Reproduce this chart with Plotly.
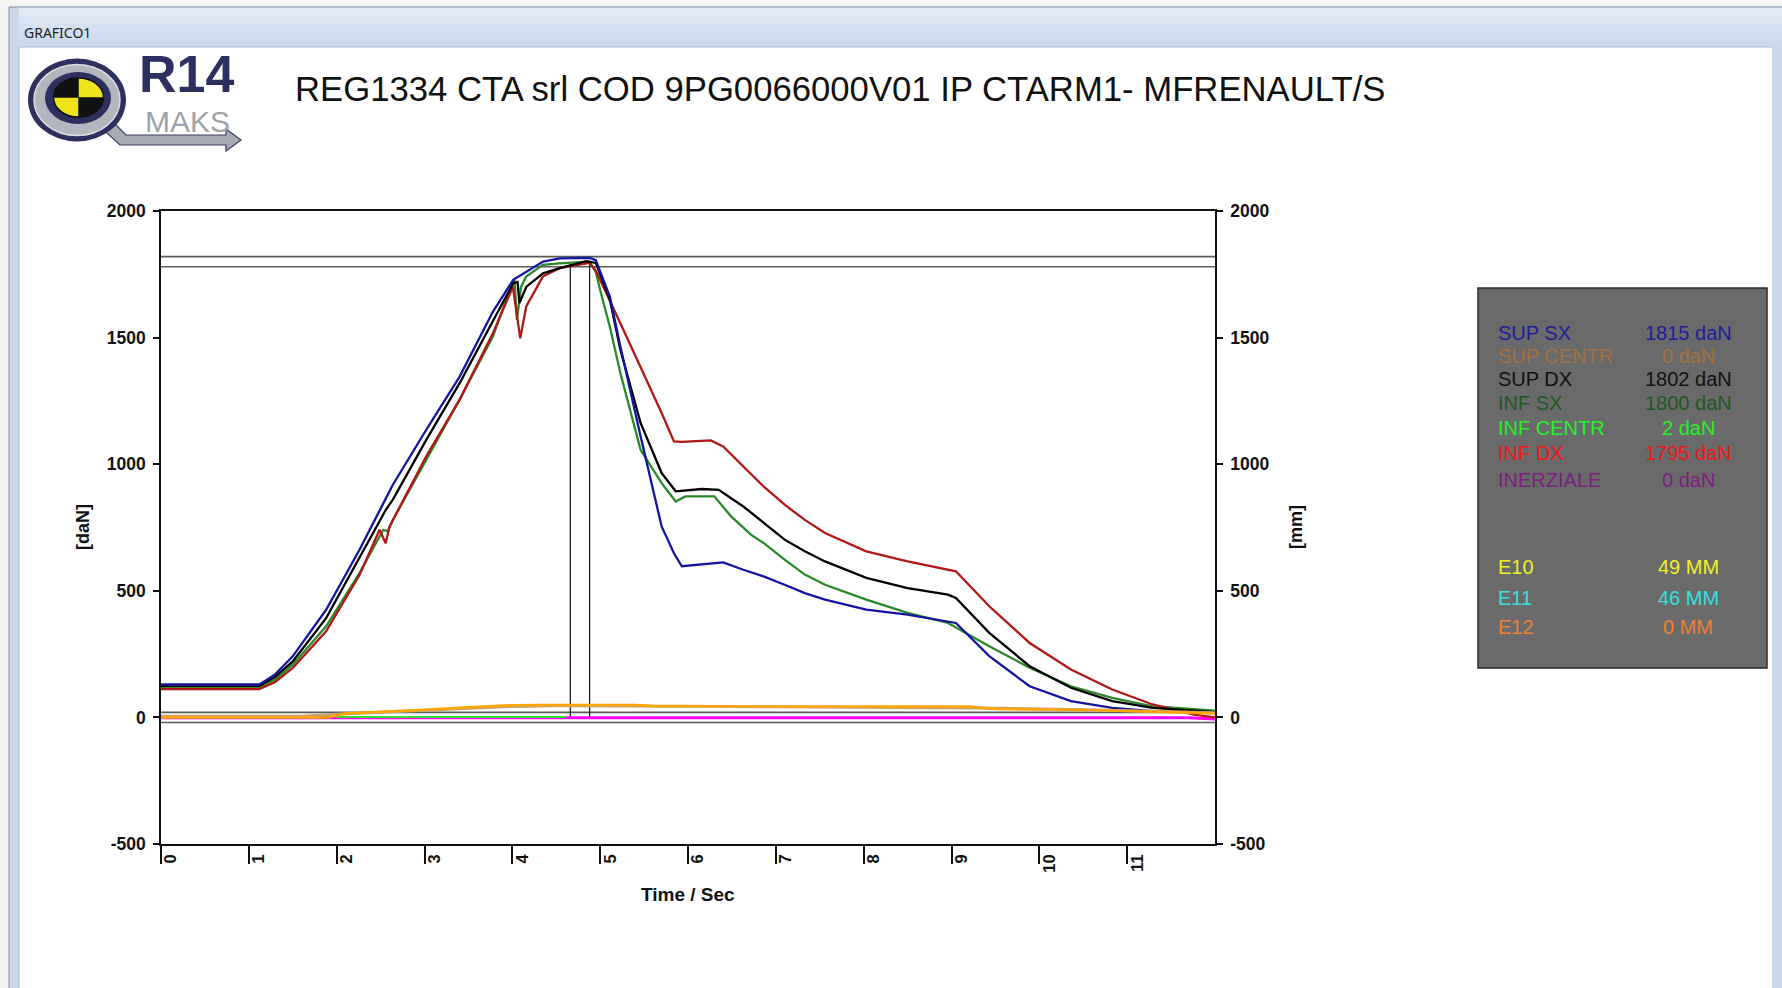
import plotly.graph_objects as go

# ---------------- DATA ----------------
x_ticks = [0, 1, 2, 3, 4, 5, 6, 7, 8, 9, 10, 11]
y_ticks = [-500, 0, 500, 1000, 1500, 2000]
y_tick_labels = ["-500", "0", "500", "1000", "1500", "2000"]

t_sup_sx = [0, 1.12, 1.30, 1.50, 1.88, 2.26, 2.64, 3.02, 3.40, 3.78, 4.01, 4.16, 4.35, 4.54, 4.70, 4.88, 4.95,
            5.11, 5.23, 5.46, 5.70, 5.84, 5.93, 6.16, 6.40, 6.63, 6.86, 7.10, 7.33, 7.56, 8.03, 8.50, 8.96, 9.05,
            9.43, 9.89, 10.36, 10.83, 11.29, 12.0]
v_sup_sx = [130, 130, 170, 241, 425, 662, 919, 1136, 1346, 1603, 1728, 1761, 1800, 1813, 1815, 1815, 1806,
            1662, 1465, 1110, 754, 648, 597, 603, 612, 583, 557, 524, 491, 465, 426, 406, 380, 373,
            242, 123, 64, 38, 25, 18]

t_sup_dx = [0, 1.12, 1.30, 1.50, 1.88, 2.26, 2.56, 2.64, 3.02, 3.40, 3.78, 4.01, 4.06, 4.08, 4.16, 4.35, 4.54,
            4.84, 4.95, 5.11, 5.23, 5.46, 5.70, 5.86, 6.16, 6.35, 6.63, 6.86, 7.10, 7.33, 7.56, 8.03, 8.50, 8.96,
            9.05, 9.43, 9.89, 10.36, 10.83, 11.29, 12.0]
v_sup_dx = [125, 125, 160, 221, 392, 629, 820, 860, 1096, 1320, 1570, 1715, 1720, 1636, 1701, 1754, 1774,
            1802, 1795, 1650, 1452, 1163, 965, 893, 902, 899, 833, 768, 702, 656, 616, 551, 511, 485,
            472, 334, 202, 117, 64, 38, 21]

t_inf_sx = [0, 1.12, 1.30, 1.50, 1.88, 2.26, 2.53, 2.58, 2.64, 3.02, 3.40, 3.78, 3.93, 4.025, 4.052, 4.10,
            4.158, 4.347, 4.537, 4.878, 4.95, 5.0, 5.11, 5.23, 5.46, 5.70, 5.86, 5.97, 6.30, 6.49, 6.72, 6.86,
            7.10, 7.33, 7.56, 8.03, 8.50, 8.96, 9.43, 9.89, 10.36, 10.83, 11.29, 12.0]
v_inf_sx = [120, 120, 150, 208, 360, 570, 741, 735, 780, 1017, 1255, 1505, 1650, 1728, 1570, 1701,
            1741, 1787, 1793, 1800, 1760, 1688, 1543, 1360, 1057, 925, 853, 873, 873, 794, 721, 689,
            623, 564, 524, 465, 413, 373, 281, 196, 123, 77, 44, 27]

t_inf_dx = [0, 1.12, 1.30, 1.50, 1.88, 2.26, 2.489, 2.557, 2.603, 2.641, 3.02, 3.40, 3.78, 4.006, 4.09,
            4.158, 4.347, 4.537, 4.878, 4.95, 5.23, 5.46, 5.70, 5.84, 5.93, 6.26, 6.40, 6.63, 6.86, 7.10,
            7.33, 7.56, 8.03, 8.50, 8.96, 9.05, 9.43, 9.89, 10.36, 10.83, 11.29, 11.76, 12.0]
v_inf_dx = [112, 112, 140, 195, 340, 563, 741, 688, 754, 780, 1031, 1255, 1518, 1701, 1497,
            1623, 1741, 1774, 1795, 1765, 1557, 1386, 1202, 1090, 1088, 1094, 1070, 991, 912, 840,
            780, 728, 656, 616, 583, 577, 439, 294, 189, 110, 51, 11, 0]

t_sup_centr = [0, 1.6]
v_sup_centr = [4, 4]

t_inf_centr = [2.0, 4.6]
v_inf_centr = [2, 2]

t_inerz = [0, 11.7, 12.0]
v_inerz = [-1, -1, -6]

t_e10 = [0, 1.9, 2.1, 2.5, 3.0, 3.5, 4.0, 4.3, 5.4, 5.6, 7.0, 9.2, 9.5, 10.2, 10.7, 11.5, 12.0]
v_e10 = [0, 0, 15, 21, 30, 40, 48, 49, 49, 45, 43, 43, 33, 30, 28, 20, 15]

t_e11 = [0, 1.6, 2.0, 2.5, 3.0, 3.5, 4.0, 4.5, 5.6, 6.0, 7.0, 8.0, 9.0, 9.6, 10.5, 11.2, 12.0]
v_e11 = [5, 5, 12, 20, 28, 37, 43, 46, 46, 44, 42, 40, 40, 36, 30, 25, 18]

ref_levels = [1820, 1780, 20, -20]
ref_times = [4.66, 4.88]
ref_time_top = 1792

legend_names = ["SUP SX", "SUP CENTR", "SUP DX", "INF SX", "INF CENTR", "INF DX", "INERZIALE", "E10", "E11", "E12"]
legend_values = ["1815 daN", "0 daN", "1802 daN", "1800 daN", "2 daN", "1795 daN", "0 daN", "49 MM", "46 MM", "0 MM"]
legend_colors = ["#1e1e9a", "#a3703f", "#101010", "#1d5a24", "#28f028", "#f01818", "#7c1f80", "#f0f028", "#38e0e0", "#f08030"]
legend_rows_y = [332.7, 356, 379.3, 403.3, 427.7, 453.3, 480, 566.7, 598.3, 626.7]

title_text = "REG1334 CTA srl COD 9PG0066000V01 IP CTARM1- MFRENAULT/S"

# ---------------- GEOMETRY ----------------
WIDTH, HEIGHT = 1782, 988
L, R, T, B = 161, 1215, 211, 844
PW, PH = R - L, B - T


def px(x):
    return (x - L) / PW


def py(y):
    return (B - y) / PH


FONT = "Liberation Sans, Arial, sans-serif"

fig = go.Figure()

# reference lines
for lvl in ref_levels:
    fig.add_trace(go.Scatter(x=[0, 12], y=[lvl, lvl], mode="lines",
                             line=dict(color="#5a5a5a", width=1.6), hoverinfo="skip", showlegend=False))
for rt in ref_times:
    fig.add_trace(go.Scatter(x=[rt, rt], y=[0, ref_time_top], mode="lines",
                             line=dict(color="#111111", width=1.2), hoverinfo="skip", showlegend=False))

# low-level series
low = [
    (t_inerz, v_inerz, "#ff00ff", 3, "y"),
    (t_inf_centr, v_inf_centr, "#33dd33", 2, "y"),
    (t_sup_centr, v_sup_centr, "#c8aa6e", 3, "y"),
    (t_e11, v_e11, "#c8a46e", 3, "y2"),
    (t_e10, v_e10, "#ffa500", 2.5, "y2"),
]
for t, v, c, w, ax in low:
    fig.add_trace(go.Scatter(x=t, y=v, mode="lines", line=dict(color=c, width=w), yaxis=ax,
                             hoverinfo="skip", showlegend=False))

main = [
    ("INF SX", t_inf_sx, v_inf_sx, "#2a8a2a"),
    ("INF DX", t_inf_dx, v_inf_dx, "#b01818"),
    ("SUP DX", t_sup_dx, v_sup_dx, "#000000"),
    ("SUP SX", t_sup_sx, v_sup_sx, "#1414a0"),
]
for name, t, v, c in main:
    fig.add_trace(go.Scatter(x=t, y=v, mode="lines", name=name, line=dict(color=c, width=2.3),
                             hoverinfo="skip", showlegend=False))

shapes = []


def rect(x0, y0, x1, y1, fill, line_color=None, lw=0, layer="below"):
    shapes.append(dict(type="rect", xref="paper", yref="paper", x0=px(x0), x1=px(x1), y0=py(y1), y1=py(y0),
                       fillcolor=fill, line=dict(color=line_color or fill, width=lw), layer=layer))


def ellipse(cx, cy, rx, ry, fill, line_color=None, lw=0):
    shapes.append(dict(type="circle", xref="paper", yref="paper", x0=px(cx - rx), x1=px(cx + rx),
                       y0=py(cy + ry), y1=py(cy - ry), fillcolor=fill,
                       line=dict(color=line_color or fill, width=lw), layer="above"))


def path(points, fill, line_color, lw=1):
    d = "M " + " L ".join(f"{px(x):.5f},{py(y):.5f}" for x, y in points) + " Z"
    shapes.append(dict(type="path", xref="paper", yref="paper", path=d, fillcolor=fill,
                       line=dict(color=line_color, width=lw), layer="above"))


# window chrome
rect(0, 0, WIDTH, 7, "#f4f4f4")
rect(0, 7, 9, HEIGHT, "#f2f2f2")
bar_colors = ["#e1eaf6", "#dbe5f4", "#d6e2f2", "#d1def1", "#ccdaf0"]
for i, c in enumerate(bar_colors):
    rect(9, 7 + i * 8, WIDTH, 7 + (i + 1) * 8, c)
rect(9, 7, 19, HEIGHT, "#cbd8ec")
rect(1772, 47, WIDTH, HEIGHT, "#cbd8ec")
shapes.append(dict(type="line", xref="paper", yref="paper", x0=px(9), x1=px(WIDTH), y0=py(7), y1=py(7),
                   line=dict(color="#7d8ca3", width=1), layer="below"))
shapes.append(dict(type="line", xref="paper", yref="paper", x0=px(9), x1=px(9), y0=py(7), y1=py(HEIGHT),
                   line=dict(color="#7d8ca3", width=1), layer="below"))
shapes.append(dict(type="line", xref="paper", yref="paper", x0=px(19), x1=px(1772), y0=py(47), y1=py(47),
                   line=dict(color="#a9b8cf", width=1), layer="below"))
shapes.append(dict(type="line", xref="paper", yref="paper", x0=px(19), x1=px(19), y0=py(47), y1=py(HEIGHT),
                   line=dict(color="#a9b8cf", width=1), layer="below"))

# logo
path([(96, 123), (110, 119), (126, 135), (226, 135), (226, 129), (241, 140), (226, 151), (226, 145),
      (120, 145)], "#a8abb3", "#3a3c60", 1.2)
ellipse(77, 100, 49, 41.5, "#2d2f5e")
ellipse(77, 100, 43, 35.5, "#b4b6bd", "#dcdee3", 1.5)
ellipse(78, 98, 33, 26, "#2d2f5e")
ellipse(78.5, 97.5, 25, 19.5, "#efe41a", "#111111", 1.5)
path([(78.5, 97.5), (53.5, 97.5), (55, 89), (61, 83), (70, 78.5), (78.5, 78)], "#111111", "#111111", 0.5)
path([(78.5, 97.5), (103.5, 97.5), (102, 106), (96, 112), (87, 116.5), (78.5, 117)], "#111111", "#111111", 0.5)

# legend box
rect(1478, 288, 1767, 668, "#6a6a6a", "#2a2a2a", 1.5, layer="above")

annotations = []


def text(x, y, s, size, color, xanchor="left", yanchor="middle", weight="normal", family=FONT, angle=0):
    annotations.append(dict(x=px(x), y=py(y), xref="paper", yref="paper", text=s, showarrow=False,
                            xanchor=xanchor, yanchor=yanchor, textangle=angle, borderpad=0,
                            font=dict(family=family, size=size, color=color, weight=weight)))


text(23, 32, "GRAFICO1", 14, "#222222", family="Noto Sans, DejaVu Sans, sans-serif")
text(186, 104, "R14", 52, "#2d2f5e", xanchor="center", yanchor="bottom", weight="bold")
text(187, 104, "MAKS", 30, "#9ea2ab", xanchor="center", yanchor="top")
text(294, 89, title_text, 34.7, "#111111")
text(83, 527, "[daN]", 18, "#111111", xanchor="center", weight="bold", angle=-90)
text(1296, 527, "[mm]", 18, "#111111", xanchor="center", weight="bold", angle=-90)
text(688, 894, "Time / Sec", 19, "#111111", xanchor="center", weight="bold")

for name, val, col, yy in zip(legend_names, legend_values, legend_colors, legend_rows_y):
    text(1497, yy, name, 20, col)
    text(1688, yy, val, 20, col, xanchor="center")

tickfont = dict(family=FONT, size=17.5, color="#111111", weight="bold")

fig.update_layout(
    width=WIDTH, height=HEIGHT,
    margin=dict(l=L, r=WIDTH - R, t=T, b=HEIGHT - B, pad=0),
    paper_bgcolor="white", plot_bgcolor="white",
    showlegend=False,
    shapes=shapes, annotations=annotations,
    xaxis=dict(range=[0, 12], tickvals=x_ticks, ticktext=[str(v) for v in x_ticks], tickangle=-90,
               ticks="outside", ticklen=18, tickwidth=1.5, tickcolor="#111111",
               showline=True, linecolor="#111111", linewidth=1.5, mirror=True,
               showgrid=False, zeroline=False, tickfont=dict(family=FONT, size=16.5, color="#111111", weight="bold"),
               ticklabelshift=10, ticklabelstandoff=-16),
    yaxis=dict(range=[-500, 2000], tickvals=y_ticks, ticktext=y_tick_labels, ticks="outside", ticklen=6,
               tickwidth=1.5, tickcolor="#111111", showline=True, linecolor="#111111", linewidth=1.5,
               showgrid=False, zeroline=False, tickfont=tickfont, ticklabelstandoff=4),
    yaxis2=dict(range=[-500, 2000], tickvals=y_ticks, ticktext=y_tick_labels, overlaying="y", side="right",
                ticks="outside", ticklen=6, tickwidth=1.5, tickcolor="#111111", showline=True,
                linecolor="#111111", linewidth=1.5, showgrid=False, zeroline=False, tickfont=tickfont,
                ticklabelstandoff=4),
)

fig.write_html("out.html", config={"displayModeBar": False},
               post_script="document.body.style.margin='0';document.body.style.overflow='hidden';")
